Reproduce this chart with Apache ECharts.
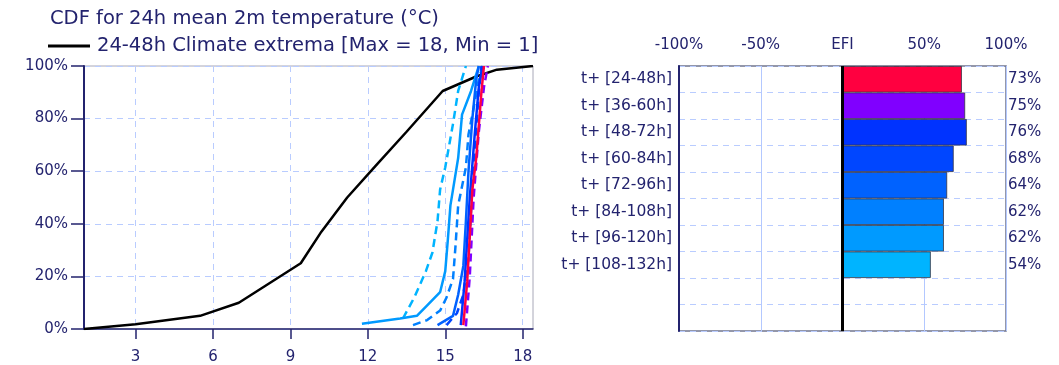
<!DOCTYPE html>
<html>
<head>
<meta charset="utf-8">
<title>CDF and EFI</title>
<script src="https://cdn.jsdelivr.net/npm/echarts@6/dist/echarts.min.js"></script>
<style>
  html, body { margin: 0; padding: 0; background: #fff; }
  #chart { width: 1059px; height: 365px; }
</style>
</head>
<body>
<div id="chart"></div>
<script>
// left panel: cumulative distributions, [temperature °C, cumulative %]
const climate = [[1, 0], [3, 1.8], [5.5, 5], [7, 10], [9.4, 25], [10.2, 37], [11.2, 50],
  [12.3, 62], [13.5, 75], [14.9, 90.5], [16.2, 96], [17, 98.6], [18.4, 100]];

const ensemble = {
  'h108_132': [[13.36, 4], [13.8, 12], [14.25, 22], [14.5, 29], [14.7, 41], [14.8, 53], [15.0, 61.5], [15.3, 78], [15.5, 90.5], [15.8, 100]],
  'h96_120': [[11.77, 2], [13.25, 4], [13.9, 5], [14.3, 9], [14.8, 14], [15.0, 22], [15.1, 34], [15.2, 47], [15.3, 53], [15.5, 65], [15.65, 81.5], [16.0, 90.5], [16.3, 100]],
  'h84_108': [[13.75, 1.5], [14.3, 3.4], [14.8, 7], [15.05, 12], [15.3, 19], [15.4, 32], [15.5, 47], [15.8, 61.5], [15.9, 74], [16.1, 84], [16.3, 95], [16.45, 100]],
  'h72_96': [[14.7, 1.5], [15.3, 5], [15.5, 13], [15.7, 24], [15.8, 41], [15.9, 60], [16.05, 80], [16.2, 95], [16.3, 100]],
  'h60_84': [[15.05, 1.5], [15.45, 6], [15.7, 13], [15.9, 27], [16.0, 45], [16.15, 70], [16.3, 90], [16.4, 100]],
  'h48_72': [[15.6, 1.5], [15.75, 18], [15.95, 50], [16.15, 75], [16.3, 92], [16.45, 100]],
  'h36_60': [[15.8, 1], [15.95, 20], [16.1, 50], [16.3, 75], [16.5, 92], [16.65, 100]],
  'h24_48': [[15.7, 1.5], [15.85, 18], [16.05, 53], [16.2, 65], [16.4, 90], [16.5, 100]],
};

const tempTicks = [3, 6, 9, 12, 15, 18];

// right panel: EFI per lead-time window
const leadTimes = ['t+ [24-48h]', 't+ [36-60h]', 't+ [48-72h]', 't+ [60-84h]', 't+ [72-96h]',
  't+ [84-108h]', 't+ [96-120h]', 't+ [108-132h]', '', ''];
const efi = [73, 75, 76, 68, 64, 62, 62, 54];

// colours per lead time (same order as efi)
const leadColors = ['#ff0040', '#8000ff', '#0033ff', '#0046ff', '#0062ff', '#0080ff', '#009aff', '#00b4ff'];
const ensembleOrder = ['h24_48', 'h36_60', 'h48_72', 'h60_84', 'h72_96', 'h84_108', 'h96_120', 'h108_132'];

const NAVY = '#23236e';
const GRIDBLUE = '#b9ccff';
const FONT = 'DejaVu Sans';

const chart = echarts.init(document.getElementById('chart'));

// lightest window first so the 24-48h curve ends up on top
const cdfSeries = ensembleOrder.slice().reverse().map((key) => {
  const i = ensembleOrder.indexOf(key);
  return {
    name: key,
    type: 'line',
    xAxisIndex: 0, yAxisIndex: 0,
    data: ensemble[key],
    symbol: 'none',
    silent: true,
    lineStyle: { color: leadColors[i], width: 2.5, type: i % 2 === 1 ? [8, 5] : 'solid' },
  };
});

chart.setOption({
  animation: false,
  textStyle: { fontFamily: FONT },
  title: {
    text: 'CDF for 24h mean 2m temperature (°C)',
    left: 45, top: 4,
    textStyle: { fontFamily: FONT, fontSize: 19.5, fontWeight: 'normal', color: NAVY },
  },
  legend: {
    data: ['24-48h Climate extrema [Max = 18, Min = 1]'],
    left: 43, top: 31,
    icon: 'rect', itemWidth: 42, itemHeight: 3, itemGap: 6,
    textStyle: { fontFamily: FONT, fontSize: 19.5, color: NAVY, padding: [0, 0, 0, 2] },
  },
  grid: [
    { left: 84, top: 66, width: 449, height: 265, show: true, borderColor: '#a8a8b8', borderWidth: 1 },
    { left: 679, top: 66, width: 327, height: 265, show: true, borderColor: '#70758f', borderWidth: 1.5 },
  ],
  xAxis: [
    {
      gridIndex: 0, type: 'value', min: 1, max: 18.4,
      axisLine: { lineStyle: { color: NAVY, width: 1.5 } },
      axisTick: { customValues: tempTicks, length: 10, lineStyle: { color: NAVY, width: 1.5 } },
      axisLabel: { customValues: tempTicks, color: NAVY, fontSize: 15, margin: 21, fontFamily: FONT },
      splitLine: { show: true, lineStyle: { color: GRIDBLUE, type: [6, 5], width: 1 } },
    },
    {
      gridIndex: 1, type: 'value', min: -100, max: 100, interval: 50, position: 'top',
      axisLine: { show: false },
      axisTick: { show: false },
      axisLabel: {
        color: NAVY, fontSize: 15, margin: 13, fontFamily: FONT,
        formatter: (v) => (v === 0 ? 'EFI' : v + '%'),
      },
      splitLine: { show: true, lineStyle: { color: '#b3c8ff', width: 1 } },
    },
  ],
  yAxis: [
    {
      gridIndex: 0, type: 'value', min: 0, max: 100, interval: 20,
      axisLine: { show: true, lineStyle: { color: NAVY, width: 2 } },
      axisTick: { show: true, length: 13, lineStyle: { color: NAVY, width: 1.5 } },
      axisLabel: { color: NAVY, fontSize: 15, margin: 16, formatter: '{value}%', fontFamily: FONT },
      splitLine: { show: true, lineStyle: { color: GRIDBLUE, type: [6, 5], width: 1 } },
    },
    {
      gridIndex: 1, type: 'category', data: leadTimes, inverse: true, position: 'left',
      axisLine: { show: true, onZero: false, lineStyle: { color: NAVY, width: 2 } },
      axisTick: { show: false },
      axisLabel: { color: NAVY, fontSize: 15.5, margin: 7, fontFamily: FONT },
      splitLine: { show: true, lineStyle: { color: GRIDBLUE, type: [6, 5], width: 1 } },
    },
    {
      gridIndex: 1, type: 'category', inverse: true, position: 'right',
      data: leadTimes.map((_, i) => (i < efi.length ? efi[i] + '%' : '')),
      axisLine: { show: false },
      axisTick: { show: false },
      axisLabel: { color: NAVY, fontSize: 15, margin: 2, fontFamily: FONT },
      splitLine: { show: false },
    },
  ],
  series: [
    {
      name: '24-48h Climate extrema [Max = 18, Min = 1]',
      type: 'line',
      xAxisIndex: 0, yAxisIndex: 0,
      data: climate,
      symbol: 'none',
      silent: true,
      lineStyle: { color: '#000', width: 2.5 },
      itemStyle: { color: '#000' },
    },
    ...cdfSeries,
    {
      type: 'bar',
      xAxisIndex: 1, yAxisIndex: 1,
      barCategoryGap: '0%',
      data: efi.map((v, i) => ({ value: v, itemStyle: { color: leadColors[i] } })),
      itemStyle: { borderColor: '#333344', borderWidth: 0.8 },
      silent: true,
      markLine: {
        symbol: 'none', silent: true, label: { show: false },
        lineStyle: { color: '#000', type: 'solid', width: 3 },
        data: [{ xAxis: 0 }],
      },
    },
  ],
});
</script>
</body>
</html>
